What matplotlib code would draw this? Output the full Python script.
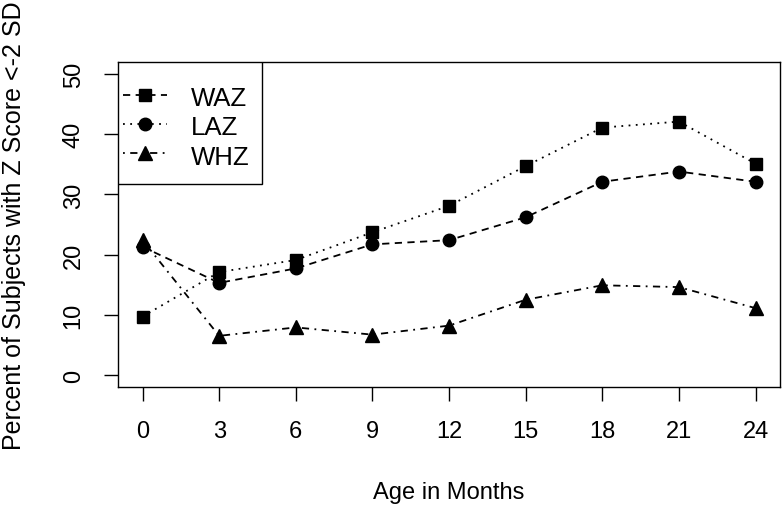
import numpy as np
import matplotlib.pyplot as plt
from matplotlib.patches import Rectangle

plt.rcParams['font.family'] = ['Liberation Sans', 'DejaVu Sans']

# dados
idade = [0, 3, 6, 9, 12, 15, 18, 21, 24]
waz = [9.7, 17.1, 19.1, 23.7, 28.1, 34.7, 41.1, 42.1, 35.1]
laz = [21.3, 15.3, 17.7, 21.7, 22.4, 26.2, 32.1, 33.8, 32.1]
whz = [22.4, 6.5, 7.9, 6.7, 8.2, 12.5, 14.9, 14.6, 11.1]
yticks = [0, 10, 20, 30, 40, 50]
nomes = ['WAZ', 'LAZ', 'WHZ']

fig = plt.figure(figsize=(7.84, 5.10), dpi=100)
ax = fig.add_axes([0.1505, 0.2392, 0.8445, 0.6373])

lw = 1.3
ms = 9
tracejado = (4, 3)
pontilhado = (1, 3)
traco_ponto = (1, 3, 4, 3)

# no grafico original, quadrados usam linha pontilhada e circulos tracejada
ax.plot(idade, waz, color='black', lw=lw, dashes=pontilhado, marker='s', ms=ms)
ax.plot(idade, laz, color='black', lw=lw, dashes=tracejado, marker='o', ms=ms)
ax.plot(idade, whz, color='black', lw=lw, dashes=traco_ponto, marker='^', ms=ms + 1)

# legenda (estilos como aparecem na legenda original)
h1, = ax.plot([], [], color='black', lw=lw, dashes=tracejado, marker='s', ms=ms)
h2, = ax.plot([], [], color='black', lw=lw, dashes=pontilhado, marker='o', ms=ms)
h3, = ax.plot([], [], color='black', lw=lw, dashes=traco_ponto, marker='^', ms=ms + 1)
ax.legend([h1, h2, h3], nomes, loc='upper left', bbox_to_anchor=(0, 0.945),
          borderaxespad=0, frameon=False, fontsize=18.5, handlelength=1.7,
          handleheight=1.0, handletextpad=0.95, borderpad=0.2,
          labelspacing=0.15)
# moldura da legenda estilo R
ax.add_patch(Rectangle((0, 1 - 0.375), 0.2175, 0.375, transform=ax.transAxes,
                       fill=True, facecolor='white', edgecolor='black', lw=1.0,
                       zorder=4))
ax.get_legend().set_zorder(5)

ax.set_xlim(-0.96, 24.96)
ax.set_ylim(-2, 52)
ax.set_xticks(idade)
ax.set_yticks(yticks)
ax.tick_params(axis='both', direction='out', length=10, width=1, labelsize=17, pad=14)
ax.tick_params(axis='y', labelrotation=90)
for lab in ax.get_yticklabels():
    lab.set_va('center')
for s in ax.spines.values():
    s.set_linewidth(1.0)

fig.text(449 / 784, 1 - 493 / 510, 'Age in Months', ha='center', va='center', fontsize=17)
fig.text(14 / 784, 1 - 226 / 510, 'Percent of Subjects with Z Score <-2 SD', ha='center',
         va='center', rotation=90, fontsize=18)

fig.savefig('out.png', dpi=100)
